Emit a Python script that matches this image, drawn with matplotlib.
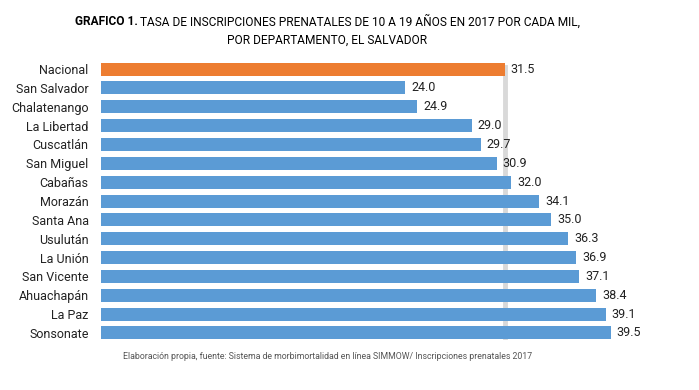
import numpy as np
import matplotlib.pyplot as plt

plt.rcParams['font.family'] = ['Roboto', 'DejaVu Sans']

departamentos = ['Nacional', 'San Salvador', 'Chalatenango', 'La Libertad',
                 'Cuscatlán', 'San Miguel', 'Cabañas', 'Morazán', 'Santa Ana',
                 'Usulután', 'La Unión', 'San Vicente', 'Ahuachapán',
                 'La Paz', 'Sonsonate']
tasas = [31.5, 24.0, 24.9, 29.0, 29.7, 30.9, 32.0, 34.1, 35.0,
         36.3, 36.9, 37.1, 38.4, 39.1, 39.5]
nacional = 31.5

naranja = '#ed7d31'
azul = '#5b9bd5'
colores = [naranja] + [azul] * (len(tasas) - 1)

fig = plt.figure(figsize=(6.99, 3.9), dpi=100)
ax = fig.add_axes([0.1445, 0.122, 0.83, 0.725])

y = np.arange(len(tasas))
ax.barh(y, tasas, height=0.69, color=colores, zorder=2)
# linea de referencia en el valor nacional
ax.axvline(nacional, ymin=0.02, ymax=0.975, color='#d9d9d9', lw=3.5, zorder=1)

for yi, v in zip(y, tasas):
    ax.text(v + 0.45, yi, '{:.1f}'.format(v), va='center', ha='left',
            fontsize=9, color='#222222')

ax.set_xlim(1.05, 44.8)
ax.set_ylim(len(tasas) - 0.5, -0.5)
ax.set_yticks(y)
ax.set_yticklabels(departamentos, fontsize=9, color='#222222')
ax.tick_params(axis='y', length=0, pad=9)
ax.set_xticks([])
for s in ax.spines.values():
    s.set_visible(False)

# titulo: parte en negrita seguida del resto
t1 = fig.text(0.107, 0.944, 'GRAFICO 1.', fontsize=8.6, fontweight='bold',
              ha='left', va='center')
ax.annotate('TASA DE INSCRIPCIONES PRENATALES DE 10 A 19 AÑOS EN 2017 POR CADA MIL,',
            xy=(1, 0.5), xycoords=t1, xytext=(2, 0), textcoords='offset points',
            fontsize=8.6, ha='left', va='center', annotation_clip=False)
fig.text(0.468, 0.897, 'POR DEPARTAMENTO, EL SALVADOR', fontsize=8.6,
         ha='center', va='center')
fig.text(0.468, 0.085, 'Elaboración propia, fuente: Sistema de morbimortalidad en línea '
         'SIMMOW/ Inscripciones prenatales 2017', fontsize=6.3, color='#555555',
         ha='center', va='center')

fig.savefig('out.png', dpi=100)
